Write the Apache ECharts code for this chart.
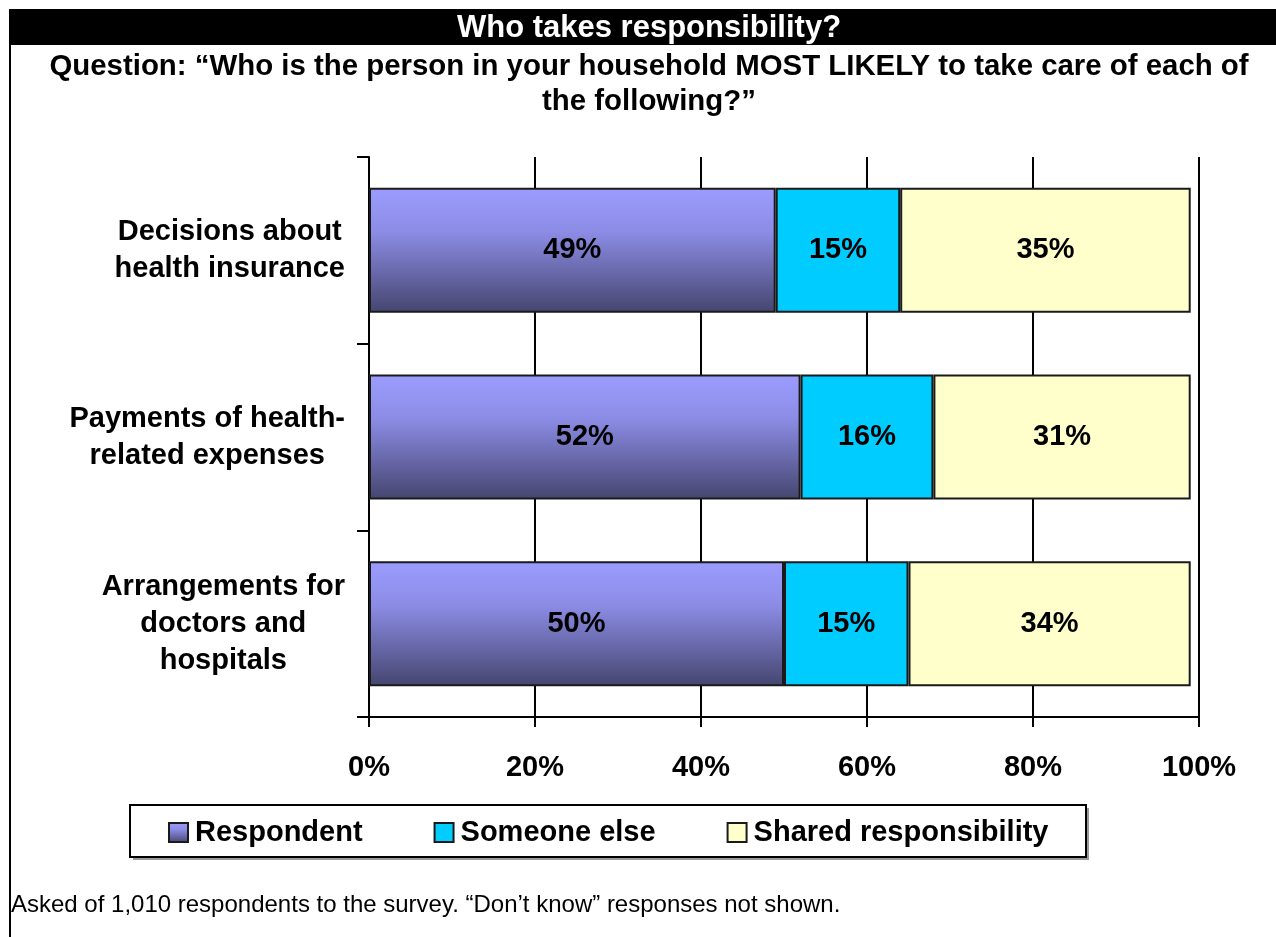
<!DOCTYPE html>
<html>
<head>
<meta charset="utf-8">
<script src="https://cdn.jsdelivr.net/npm/echarts@6/dist/echarts.min.js"></script>
<style>
html,body{margin:0;padding:0;background:#fff;}
#chart{width:1276px;height:937px;}
</style>
</head>
<body>
<div id="chart"></div>
<script>
var categories = ['Decisions about\nhealth insurance', 'Payments of health-\nrelated expenses', 'Arrangements for\ndoctors and\nhospitals'];
var respondent = [49, 52, 50];
var someoneElse = [15, 16, 15];
var shared = [35, 31, 34];
var seriesNames = ['Respondent', 'Someone else', 'Shared responsibility'];
var xTicks = [0, 20, 40, 60, 80, 100];

var FONT = '"Liberation Sans", Arial, sans-serif';
var chart = echarts.init(document.getElementById('chart'));

var labelCfg = {
  show: true, position: 'inside', formatter: '{c}%',
  color: '#000', fontFamily: FONT, fontWeight: 'bold', fontSize: 29
};
var borderCfg = { borderColor: '#1a1a1a', borderWidth: 2 };

chart.setOption({
  backgroundColor: '#fff',
  animation: false,
  textStyle: { fontFamily: FONT },
  graphic: [
    { type: 'rect', shape: { x: 9, y: 9, width: 1267, height: 36 }, style: { fill: '#000' }, z: 0 },
    { type: 'line', shape: { x1: 10, y1: 9, x2: 10, y2: 937 }, style: { stroke: '#000', lineWidth: 2 }, z: 1 },
    { type: 'rect', shape: { x: 133, y: 808, width: 956, height: 52 }, style: { fill: '#999' }, z: 0 },
    { type: 'rect', shape: { x: 130, y: 805, width: 956, height: 52 }, style: { fill: '#fff', stroke: '#000', lineWidth: 2 }, z: 1 },
    { type: 'text', x: 11, y: 905, style: { text: 'Asked of 1,010 respondents to the survey. \u201cDon\u2019t know\u201d responses not shown.', fill: '#000', font: '24px ' + FONT, verticalAlign: 'middle', textAlign: 'left' }, z: 2 }
  ],
  title: [
    { text: 'Who takes responsibility?', left: 649, top: 11, textAlign: 'center',
      textStyle: { color: '#fff', fontFamily: FONT, fontWeight: 'bold', fontSize: 31, lineHeight: 34 }, padding: 0, z: 5 },
    { text: 'Question: \u201cWho is the person in your household MOST LIKELY to take care of each of\nthe following?\u201d',
      left: 649, top: 49, textAlign: 'center', padding: 0,
      textStyle: { color: '#000', fontFamily: FONT, fontWeight: 'bold', fontSize: 29.4, lineHeight: 35 } }
  ],
  legend: {
    data: seriesNames,
    left: 168, top: 818,
    padding: 0,
    itemWidth: 19, itemHeight: 19, itemGap: 71,
    icon: 'rect',
    textStyle: { color: '#000', fontFamily: FONT, fontWeight: 'bold', fontSize: 29, padding: [0, 0, 0, 2] },
    z: 5
  },
  grid: { left: 369, right: 77, top: 157, bottom: 220, containLabel: false },
  xAxis: {
    type: 'value', min: 0, max: 100, interval: 20,
    axisLine: { show: true, lineStyle: { color: '#000', width: 2 } },
    axisTick: { show: true, length: 10, lineStyle: { color: '#000', width: 2 } },
    splitLine: { show: true, lineStyle: { color: '#000', width: 2 } },
    axisLabel: { formatter: function (v) { return v + '%'; }, color: '#000', fontFamily: FONT, fontWeight: 'bold', fontSize: 29, margin: 36 }
  },
  yAxis: {
    type: 'category', data: categories, inverse: true,
    axisLine: { show: true, lineStyle: { color: '#000', width: 2 } },
    axisTick: { show: true, length: 12, lineStyle: { color: '#000', width: 2 } },
    axisLabel: {
      color: '#000', fontFamily: FONT, fontWeight: 'bold', fontSize: 29, lineHeight: 37, align: 'right', margin: 24,
      formatter: function (v) { return v.split('\n').map(function (l) { return '{c|' + l + '}'; }).join('\n'); },
      rich: { c: { align: 'center', color: '#000', fontFamily: FONT, fontWeight: 'bold', fontSize: 29, lineHeight: 37 } }
    }
  },
  series: [
    { name: seriesNames[0], type: 'bar', stack: 'total', data: respondent, barWidth: 125,
      itemStyle: Object.assign({ color: { type: 'linear', x: 0, y: 0, x2: 0, y2: 1,
        colorStops: [{ offset: 0, color: '#9c9cff' }, { offset: 0.35, color: '#8c8ce6' }, { offset: 1, color: '#45456f' }] } }, borderCfg),
      label: labelCfg },
    { name: seriesNames[1], type: 'bar', stack: 'total', data: someoneElse, barWidth: 125,
      itemStyle: Object.assign({ color: '#00ccff' }, borderCfg), label: labelCfg },
    { name: seriesNames[2], type: 'bar', stack: 'total', data: shared, barWidth: 125,
      itemStyle: Object.assign({ color: '#ffffcc' }, borderCfg), label: labelCfg }
  ]
});
</script>
</body>
</html>
